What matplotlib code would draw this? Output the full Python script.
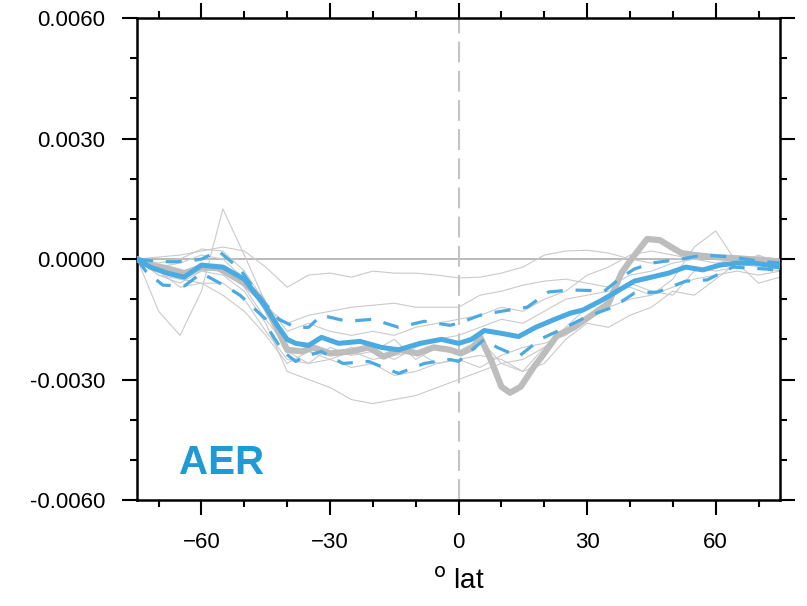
import numpy as np
import matplotlib
matplotlib.use("Agg")
import matplotlib.pyplot as plt
from matplotlib.ticker import MultipleLocator, FormatStrFormatter

plt.rcParams['font.family'] = ['Liberation Sans', 'DejaVu Sans']

# zonal mean anomaly (units of 1e-3)
lat_grid = [-75, -70, -65, -60, -55, -50, -45, -40, -35, -30, -25, -20, -15, -10, -5, 0,
            5, 10, 15, 20, 25, 30, 35, 40, 45, 50, 55, 60, 65, 70, 75]

members = [
    [0, -1.3, -1.9, -0.8, 1.25, 0.1, -1.1, -2.3, -2.6, -2.2, -2.4, -2.3, -2.0, -2.5, -2.2, -2.3,
     -2.0, -2.6, -2.8, -2.2, -1.7, -1.2, -1.0, -0.6, -0.8, -0.9, -0.3, -0.2, -0.1, -0.2, -0.3],
    [0, 0.05, 0.1, 0.2, 0.3, 0.2, -0.2, -0.7, -0.4, -0.35, -0.45, -0.3, -0.35, -0.35, -0.4, -0.47,
     -0.45, -0.35, -0.2, 0.1, 0.2, 0.22, 0.15, 0.0, -0.1, 0.0, 0.05, 0.0, -0.05, 0.05, 0.0],
    [0, -0.3, -0.5, -0.3, -0.4, -0.8, -1.6, -2.8, -3.0, -3.2, -3.5, -3.6, -3.5, -3.4, -3.2, -3.0,
     -2.8, -2.6, -2.5, -2.2, -1.8, -1.5, -1.2, -1.0, -0.9, -0.7, -0.5, -0.4, -0.3, -0.4, -0.3],
    [0, -0.4, -0.6, -0.3, -0.2, -0.7, -1.5, -2.2, -2.3, -2.4, -2.2, -2.3, -2.5, -2.2, -2.0, -1.9,
     -1.7, -1.5, -1.6, -1.3, -1.0, -0.9, -0.8, -0.7, -0.9, -0.5, 0.3, 0.7, -0.1, -0.6, -0.45],
    [0, -0.2, -0.1, 0.1, 0.0, -0.5, -1.2, -1.6, -1.4, -1.3, -1.2, -1.15, -1.1, -1.2, -1.2, -1.2,
     -0.9, -0.8, -0.65, -0.55, -0.5, -0.6, -0.7, -0.4, -0.3, -0.1, 0.0, 0.05, 0.0, -0.1, -0.1],
    [0, -0.3, -0.7, -0.6, -0.6, -1.0, -1.8, -2.5, -2.6, -2.5, -2.7, -2.6, -2.9, -2.8, -2.6, -2.5,
     -2.4, -2.5, -2.8, -2.6, -2.0, -1.6, -1.7, -1.4, -1.2, -0.8, -0.9, -0.5, -0.1, 0.1, -0.1],
    [0, -0.1, 0.0, 0.25, 0.2, -0.3, -1.1, -1.8, -1.6, -1.8, -1.9, -1.8, -1.9, -1.7, -1.6, -1.5,
     -1.4, -1.2, -1.3, -1.0, -0.8, -0.4, -0.2, 0.1, 0.2, 0.1, 0.0, -0.1, 0.0, 0.05, 0.0],
    [0, -0.4, -0.5, -0.6, -0.9, -1.3, -1.9, -2.6, -2.3, -2.5, -2.3, -2.5, -2.4, -2.3, -2.6, -2.5,
     -2.7, -2.4, -2.2, -2.1, -1.9, -1.5, -1.0, -0.6, -0.5, -0.3, -0.2, -0.3, -0.2, -0.1, -0.15],
]

lat_obs = [-75, -72, -68, -64, -60, -56, -50, -46, -42.5, -40, -36.5, -34, -30, -25, -21,
           -17.5, -13.6, -9.6, -5.8, -2, 0.5, 3.5, 5, 7.5, 10, 12, 14.5, 17.6, 20, 23,
           27, 31, 35, 38, 40, 44, 47, 49.6, 52, 55, 60, 65, 70, 75]
obs = [0, -0.15, -0.23, -0.35, -0.2, -0.23, -0.6, -1.0, -1.7, -2.26, -2.3, -2.2, -2.35, -2.3, -2.2,
       -2.43, -2.26, -2.35, -2.2, -2.26, -2.35, -2.2, -1.93, -2.5, -3.18, -3.33, -3.18, -2.68, -2.35, -1.9,
       -1.7, -1.4, -1.1, -0.35, -0.05, 0.5, 0.47, 0.3, 0.15, 0.1, 0.05, 0.02, -0.02, -0.07]

lat_mean = [-75, -72, -68, -64, -60, -55, -50, -45, -42, -40, -38, -35, -32, -28, -23,
            -18, -14, -9, -4, 0, 3, 6, 10, 14, 18, 22, 26, 29, 33, 37,
            41, 45, 49, 53, 57, 61, 65, 69, 72, 75]
mean = [0, -0.2, -0.35, -0.45, -0.15, -0.2, -0.5, -1.2, -1.7, -2.0, -2.1, -2.15, -1.95, -2.1, -2.05,
        -2.2, -2.26, -2.1, -2.0, -2.1, -2.0, -1.78, -1.85, -1.93, -1.7, -1.52, -1.35, -1.27, -1.05, -0.8,
        -0.55, -0.45, -0.35, -0.2, -0.27, -0.15, -0.1, -0.1, -0.15, -0.2]

lat_up = [-75, -71, -67, -63, -60, -56, -51, -46, -42, -38, -35, -32, -26, -20, -14,
          -8, -2, 0, 5, 10, 16, 21, 26, 30, 34, 38, 41, 45, 52, 57, 64, 70, 75]
upper = [0, -0.05, -0.07, -0.05, 0.0, 0.2, -0.25, -1.0, -1.5, -1.7, -1.7, -1.4, -1.55, -1.5, -1.7,
         -1.55, -1.65, -1.6, -1.4, -1.3, -1.2, -0.82, -0.77, -0.78, -0.8, -0.45, -0.25, -0.1, 0.0, 0.1,
         0.05, -0.05, -0.1]

lat_lo = [-75, -73, -69, -64, -60, -54, -51, -49, -45, -44, -41, -38, -36, -32, -27,
          -21, -14, -8, -2, 0, 6, 9, 14, 19, 25, 30, 36, 41, 46.5, 53, 58, 64, 72, 75]
lower = [0, -0.3, -0.65, -0.67, -0.35, -0.7, -0.9, -1.1, -1.5, -1.8, -2.3, -2.55, -2.43, -2.3, -2.6,
         -2.55, -2.85, -2.6, -2.5, -2.55, -2.0, -2.2, -2.43, -2.0, -1.7, -1.43, -1.2, -0.85, -0.82, -0.55,
         -0.52, -0.2, -0.25, -0.3]

blue = '#4aaae2'
grey = '#bdbdbd'

fig = plt.figure(figsize=(8.07, 6.06), dpi=100)
ax = fig.add_axes([0.170, 0.175, 0.7965, 0.795])

ax.axhline(0, color='#b4b4b4', lw=1.3, zorder=1)
ax.axvline(0, color='#c4c4c4', lw=1.5, ls=(0, (10, 4)), zorder=1)

for m in members:
    ax.plot(lat_grid, np.array(m) * 1e-3, color='#cacaca', lw=0.8, zorder=2)

ax.plot(lat_obs, np.array(obs) * 1e-3, color=grey, lw=4.5, solid_capstyle='round', zorder=3)
ax.plot(lat_up, np.array(upper) * 1e-3, color=blue, lw=2.3, ls=(0, (5, 4)), zorder=4)
ax.plot(lat_lo, np.array(lower) * 1e-3, color=blue, lw=2.3, ls=(0, (5, 4)), zorder=4)
ax.plot(lat_mean, np.array(mean) * 1e-3, color=blue, lw=3.6, zorder=5)

ax.set_xlim(-75, 75)
ax.set_ylim(-0.006, 0.006)
ax.xaxis.set_major_locator(MultipleLocator(30))
ax.xaxis.set_minor_locator(MultipleLocator(10))
ax.yaxis.set_major_locator(MultipleLocator(0.003))
ax.yaxis.set_minor_locator(MultipleLocator(0.001))
ax.yaxis.set_major_formatter(FormatStrFormatter('%.4f'))

ax.tick_params(which='both', direction='out', top=True, right=True, width=1.5, labelsize=16)
ax.tick_params(which='major', length=11, pad=12)
ax.tick_params(which='minor', length=5)
for s in ax.spines.values():
    s.set_linewidth(1.8)

ax.set_xlabel(r'$^\mathrm{o}$ lat', fontsize=20, labelpad=11)
ax.text(-65.3, -0.00535, 'AER', color='#1e9bd7', fontsize=29, fontweight='bold')

fig.savefig('out.png', dpi=100)
